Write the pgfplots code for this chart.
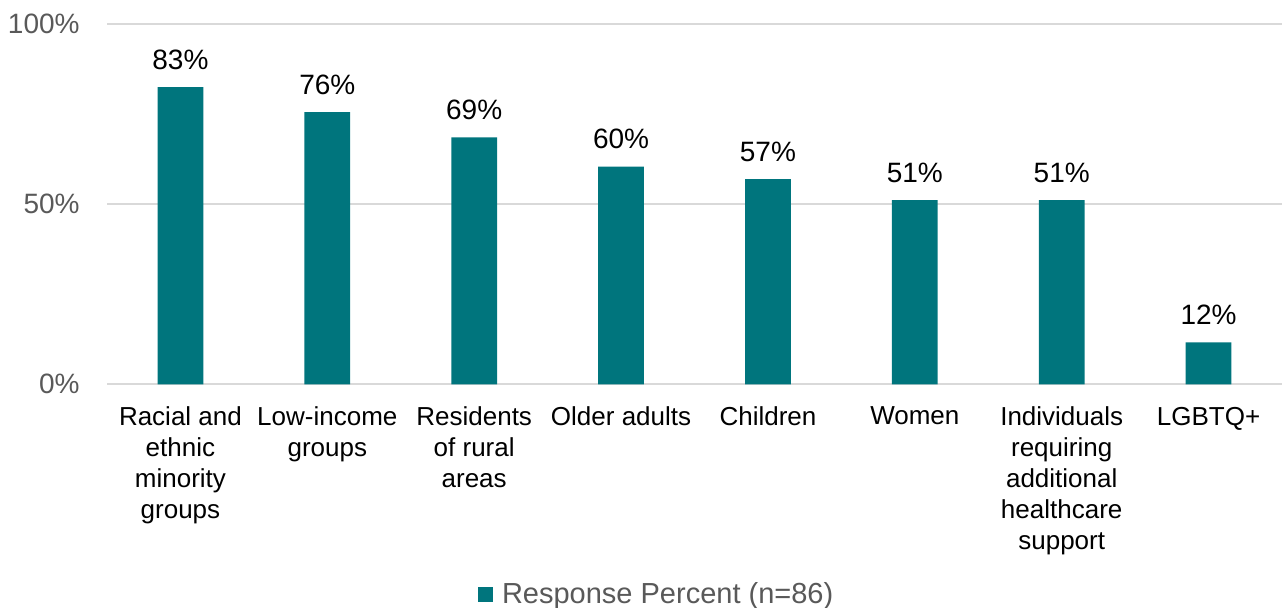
\documentclass[border=0pt]{standalone}
\usepackage{pgfplots}
\pgfplotsset{compat=1.18}
\usepackage{fontspec}
\setmainfont{Liberation Sans}
\definecolor{barteal}{RGB}{0,117,125}
\definecolor{gridgray}{RGB}{217,217,217}
\definecolor{txtgray}{RGB}{89,89,89}
\begin{document}
\begin{tikzpicture}
\useasboundingbox (0,0) rectangle (644pt,304pt);
\begin{axis}[
  at={(53.5pt,111.85pt)}, anchor=south west,
  scale only axis, width=587.5pt, height=180pt,
  xmin=-0.5, xmax=7.5, ymin=0, ymax=100,
  axis line style={draw=none},
  major tick length=0pt,
  ytick={0,50,100},
  yticklabels={0\%,50\%,100\%},
  yticklabel style={font=\fontsize{14}{16}\selectfont, text=txtgray, inner sep=0pt, xshift=-13.5pt},
  ymajorgrids, grid style={draw=gridgray, line width=1pt},
  xtick={0,...,7},
  xticklabels={Racial and\\ethnic\\minority\\groups, Low-income\\groups, Residents\\of rural\\areas, Older adults, Children, Women, Individuals\\requiring\\additional\\healthcare\\support, LGBTQ+},
  xticklabel style={font=\fontsize{13}{15.5}\selectfont, align=center, inner sep=0pt, anchor=north, yshift=-11.2pt},
  ybar, bar width=22.85pt,
  nodes near coords={\pgfmathprintnumber[fixed,precision=0,assume math mode=true]{\pgfplotspointmeta}\%},
  every node near coord/.append style={font=\fontsize{14}{16}\selectfont, text=black, anchor=base, inner sep=0pt, yshift=8.85pt},
  legend style={at={(0.3157,-0.5830)}, anchor=west, draw=none, inner sep=0pt, font=\fontsize{14.5}{16}\selectfont, text=txtgray, nodes={inner sep=0pt, text=txtgray}, /tikz/every even column/.append style={column sep=0pt}},
  legend image code/.code={\fill[barteal] (0pt,-3.75pt) rectangle (7.5pt,3.75pt);},
  legend cell align=left,
  clip=false,
]
\addplot[fill=barteal, draw=none] coordinates {(0,82.56) (1,75.58) (2,68.60) (3,60.47) (4,56.98) (5,51.16) (6,51.16) (7,11.63)};
\addlegendentry{\hspace{4.35pt}Response Percent (n=86)}
\end{axis}
\end{tikzpicture}
\end{document}
